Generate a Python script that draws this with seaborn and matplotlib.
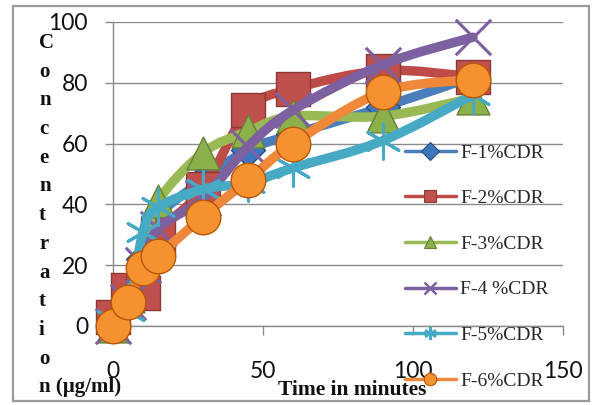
import numpy as np
import matplotlib
matplotlib.use("Agg")
import matplotlib.pyplot as plt
import seaborn as sns
from matplotlib.path import Path
from matplotlib.patches import PathPatch, Rectangle
from matplotlib.lines import Line2D

# ---------------- data ----------------
time_min = [0, 5, 10, 15, 30, 45, 60, 90, 120]
series_names = ["F-1%CDR", "F-2%CDR", "F-3%CDR", "F-4 %CDR", "F-5%CDR", "F-6%CDR"]
f1 = [0, 10, 22, 36, 48, 58, 63, 72, 82]
f2 = [3, 12, 11, 30, 45, 71, 78, 84, 82]
f3 = [0, 10, 25, 41, 57, 64, 69, 69, 75]
f4 = [0, 8, 20, 32, 42, 59, 71, 86, 95]
f5 = [2, 5, 31, 39, 45, 47, 52, 61, 76]
f6 = [0, 8, 19, 23, 36, 48, 60, 77, 81]
x_ticks = [0, 50, 100, 150]
y_ticks = [0, 20, 40, 60, 80, 100]
x_label = "Time in minutes"
y_label_chars = ["C", "o", "n", "c", "e", "n", "t", "r", "a", "t", "i", "o", "n (\u00b5g/ml)"]

all_series = [f1, f2, f3, f4, f5, f6]

# ---------------- styles ----------------
line_colors = ["#4A7EBB", "#BE4B48", "#98B954", "#7D60A0", "#46AAC5", "#F0883A"]
face_colors = ["#3F76C0", "#C0504D", "#8CB04A", "#7D60A0", "#46AAC5", "#F5922F"]
edge_colors = ["#2C4D75", "#8C3836", "#66803A", "#7D60A0", "#46AAC5", "#B65708"]
markers = ["D", "s", "^", "x", (6, 2, 0), "o"]
marker_sizes = [300, 620, 560, 650, 650, 620]
legend_markers = ["D", "s", "^", "x", (6, 2, 0), "o"]

sns.set_theme(style="white")
plt.rcParams["font.family"] = ["DejaVu Sans"]

fig = plt.figure(figsize=(5.97, 4.05), dpi=100)
W, H = 597, 405
ax = fig.add_axes([113 / W, 79 / H, 450 / W, 304 / H])
ax.set_facecolor("none")

# outer chart border
fig.patches.append(Rectangle((13 / W, 4 / H), 576 / W, 395 / H, transform=fig.transFigure,
                             fill=False, edgecolor="#9A9A9A", linewidth=1.6, zorder=0))


def smooth_path(x, y):
    pts = np.column_stack([x, y]).astype(float)
    n = len(pts)
    verts = [pts[0]]
    codes = [Path.MOVETO]
    for i in range(n - 1):
        p0 = pts[i - 1] if i > 0 else pts[i]
        p1 = pts[i]
        p2 = pts[i + 1]
        p3 = pts[i + 2] if i + 2 < n else pts[i + 1]
        c1 = p1 + (p2 - p0) / 6.0
        c2 = p2 - (p3 - p1) / 6.0
        verts += [c1, c2, p2]
        codes += [Path.CURVE4] * 3
    return Path(verts, codes)


for k, vals in enumerate(all_series):
    z = 3 + 2 * k
    patch = PathPatch(smooth_path(time_min, vals), facecolor="none", edgecolor=line_colors[k],
                      linewidth=6.8, capstyle="round", joinstyle="round", zorder=z,
                      transform=ax.transData, clip_on=False)
    ax.add_patch(patch)
    if markers[k] in ("x",) or isinstance(markers[k], tuple):
        sns.scatterplot(x=time_min, y=vals, ax=ax, marker=markers[k], s=marker_sizes[k],
                        color=face_colors[k], linewidth=2.2, zorder=z + 1, clip_on=False,
                        legend=False)
    else:
        sns.scatterplot(x=time_min, y=vals, ax=ax, marker=markers[k], s=marker_sizes[k],
                        color=face_colors[k], edgecolor=edge_colors[k], linewidth=1.0,
                        zorder=z + 1, clip_on=False, legend=False)

ax.set_xlim(0, 150)
ax.set_ylim(0, 100)
ax.set_xticks(x_ticks)
ax.set_yticks(y_ticks)
ax.set_xticklabels([str(v) for v in x_ticks])
ax.set_yticklabels([str(v) for v in y_ticks])
ax.grid(axis="y", color="#8A8A8A", linewidth=1.0, zorder=0)
ax.set_axisbelow(True)
for s in ["top", "right"]:
    ax.spines[s].set_visible(False)
for s in ["left", "bottom"]:
    ax.spines[s].set_color("#8A8A8A")
    ax.spines[s].set_linewidth(1.0)
ax.tick_params(axis="y", length=6, width=1.0, color="#8A8A8A", direction="out", pad=12,
               labelsize=16.5, left=True)
ax.tick_params(axis="x", length=6.5, width=1.0, color="#8A8A8A", direction="out", pad=19,
               labelsize=16.5, bottom=True)
for lab in ax.get_xticklabels() + ax.get_yticklabels():
    lab.set_family(["Lato", "DejaVu Sans"])
    lab.set_color("#111111")
ax.set_xlabel("")
ax.set_ylabel("")

serif = ["Liberation Serif", "DejaVu Serif"]
# axis titles
fig.text(352 / W, 1 - 395 / H, x_label, ha="center", va="baseline", fontsize=15.5,
         fontweight="bold", family=serif, color="#111111")
for i, ch in enumerate(y_label_chars):
    fig.text(39 / W, 1 - (48 + 28.7 * i) / H, ch, ha="left", va="baseline", fontsize=15,
             fontweight="bold", family=serif, color="#111111")

# legend
handles = []
for k in range(len(series_names)):
    if markers[k] == "x" or isinstance(markers[k], tuple):
        h = Line2D([0], [0], color=line_colors[k], lw=2.5, marker=legend_markers[k],
                   markersize=9, markeredgewidth=1.8, markeredgecolor=face_colors[k])
    else:
        h = Line2D([0], [0], color=line_colors[k], lw=2.5, marker=legend_markers[k],
                   markersize=9, markerfacecolor=face_colors[k],
                   markeredgecolor=edge_colors[k], markeredgewidth=0.8)
    handles.append(h)
leg = fig.legend(handles, series_names, loc="upper left", bbox_to_anchor=(405 / W, 1 - 144 / H),
                 frameon=False, prop={"family": serif, "size": 14},
                 handlelength=2.6, handletextpad=0.25, labelspacing=1.44, borderpad=0,
                 borderaxespad=0)
leg.set_zorder(30)

fig.savefig("out.png", dpi=100)
